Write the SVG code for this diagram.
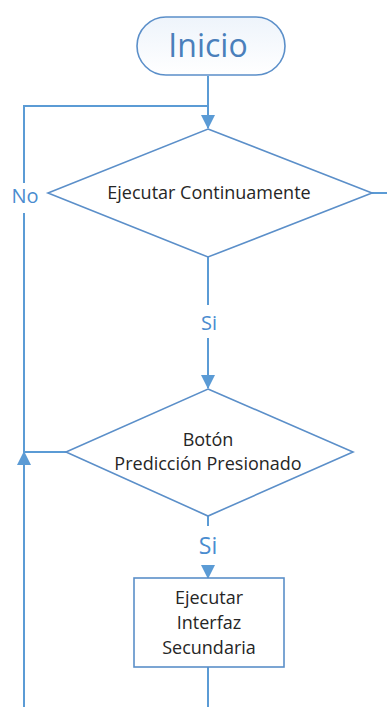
<svg xmlns="http://www.w3.org/2000/svg" width="387" height="707" viewBox="0 0 387 707">
<defs>
<linearGradient id="pill" x1="0" y1="0" x2="0" y2="1">
<stop offset="0" stop-color="#eef4fb"/>
<stop offset="1" stop-color="#ffffff"/>
</linearGradient>
<marker id="arr" viewBox="0 0 14 14" refX="13" refY="7" markerWidth="14" markerHeight="14" markerUnits="userSpaceOnUse" orient="auto">
<path d="M0,0 L14,7 L0,14 Z" fill="#5b9bd5"/>
</marker>
</defs>
<style>
.ln{fill:none;stroke:#5b9bd5;stroke-width:2}
.shape{fill:#ffffff;stroke:#5b8fc9;stroke-width:1.6}
.t{font-family:"Open Sans","Liberation Sans",sans-serif;font-size:18px;fill:#262626;text-anchor:middle}
.lbl{font-family:"Open Sans","Liberation Sans",sans-serif;fill:#4a8ccf;text-anchor:middle}
</style>
<rect width="387" height="707" fill="#ffffff"/>
<g id="connectors">
<path class="ln" d="M208,76 V128" marker-end="url(#arr)"/>
<path class="ln" d="M24,183 V106 H208"/>
<path class="ln" d="M372,193 H387"/>
<path class="ln" d="M208,257 V305"/>
<path class="ln" d="M208,338 V388" marker-end="url(#arr)"/>
<path class="ln" d="M66,452 H24 V213"/>
<path class="ln" d="M24,707 V452" marker-end="url(#arr)"/>
<path class="ln" d="M208,516 V526"/>
<path class="ln" d="M208,566 V578" marker-end="url(#arr)"/>
<path class="ln" d="M208,667 V707"/>
<text class="lbl" x="25" y="203" font-size="20">No</text>
<text class="lbl" x="209" y="330" font-size="20">Si</text>
<text class="lbl" x="208" y="554" font-size="23">Si</text>
</g>
<g id="inicio">
<rect x="137" y="17" width="148" height="58" rx="29" ry="29" fill="url(#pill)" stroke="#5b8fc9" stroke-width="1.6"/>
<text x="208" y="57" font-family="Open Sans, Liberation Sans, sans-serif" font-size="32" fill="#4a7fbb" text-anchor="middle">Inicio</text>
</g>
<g id="ejecutar-continuamente">
<polygon class="shape" points="208,129 372,193 208,257 48,193"/>
<text class="t" x="209" y="199">Ejecutar Continuamente</text>
</g>
<g id="boton-prediccion">
<polygon class="shape" points="208,389 353,452 208,516 66,452"/>
<text class="t" x="208" y="446">Botón</text>
<text class="t" x="208" y="470">Predicción Presionado</text>
</g>
<g id="ejecutar-interfaz">
<rect class="shape" x="134" y="578" width="150" height="89"/>
<text class="t" x="209" y="604">Ejecutar</text>
<text class="t" x="209" y="629">Interfaz</text>
<text class="t" x="209" y="654">Secundaria</text>
</g>
</svg>
